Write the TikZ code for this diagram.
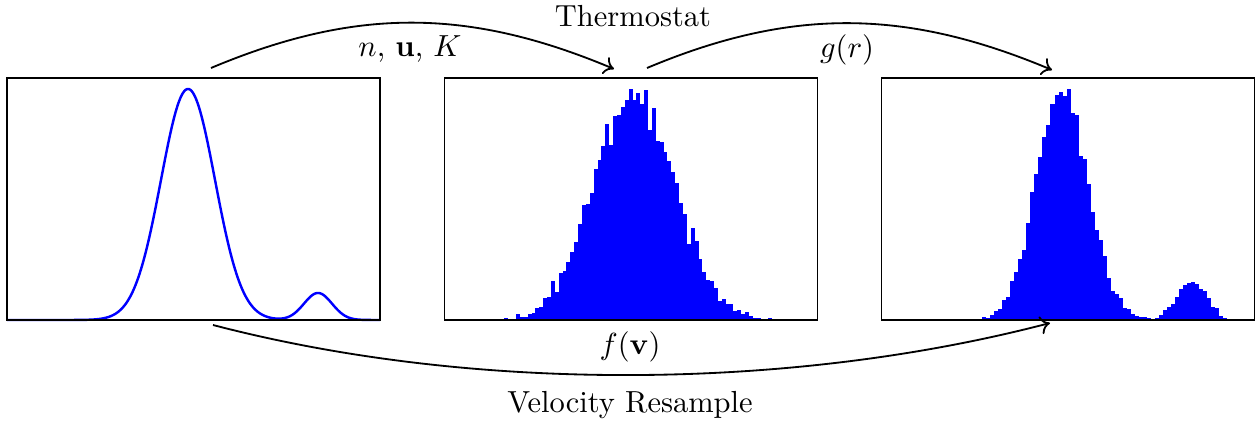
\documentclass[tikz,border=0pt]{standalone}
\usetikzlibrary{arrows.meta}
\begin{document}
\begin{tikzpicture}[x=0.328pt, y=-0.328pt,
  panel/.style={draw=black, line width=0.45pt, minimum width=122.34pt, minimum height=79.38pt, inner sep=0pt, outer sep=0pt},
  flow/.style={-{To[length=3.2pt,width=6pt]}, line width=0.6pt},
  lbl/.style={anchor=base, inner sep=0pt},
  bar/.style={fill=blue}]
\useasboundingbox (0,0) rectangle (1260,421);
% panel 1: smooth density
\draw[blue, line width=0.8pt] plot[domain=7:380, samples=300, smooth]
  (\x, {320 - 231*exp(max(-30,-0.5*((\x-188)/27)^2)) - 27*exp(max(-30,-0.5*((\x-318)/14)^2))});
% panel 2: histogram
\foreach \h [count=\i from 0] in {4,1,3,4,1,6,4,4,18,9,9,18,21,36,39,67,69,117,85,141,147,174,204,234,288,345,349,381,453,480,522,589,525,613,615,640,660,693,660,682,649,690,570,636,537,534,504,477,444,411,351,318,229,276,237,183,144,120,117,96,58,63,49,49,28,31,19,24,12,7,7,4,4,7,4}
  \fill[bar] ({485+3.88*\i},320) rectangle ({485+3.88*\i+3.98},{320-\h/3});
% panel 3: histogram
\fill[bar] (951,320) rectangle (1253,319);
\foreach \h [count=\i from 0] in {4,9,6,14,28,33,60,69,117,144,183,210,291,384,438,489,549,585,649,675,684,672,692,621,615,492,483,408,324,269,240,192,126,88,78,66,36,33,18,13,10,9,6,4,7,15,31,39,49,69,93,105,111,114,108,93,86,66,39,36,12,6,3}
  \fill[bar] ({978.3+4.01*\i},320) rectangle ({978.3+4.01*\i+4.11},{320-\h/3});
% panels
\node[panel] (p1) at (193.5,199) {};
\node[panel] (p2) at (631,199) {};
\node[panel] (p3) at (1068,199) {};
% connector ends
\coordinate (a1s) at (211,68);
\coordinate (a1e) at (614,69);
\coordinate (a2s) at (647,68);
\coordinate (a2e) at (1052,70);
\coordinate (a3s) at (213,325);
\coordinate (a3e) at (1050,323);
\draw[flow] (a1s) .. controls (356,7) and (469,8) .. (a1e);
\draw[flow] (a2s) .. controls (792,7) and (907,9) .. (a2e);
\draw[flow] (a3s) .. controls (473,393) and (790,391) .. (a3e);
% labels
\node[lbl] (thermo) at (633,27) {Thermostat};
\node[lbl] (l1) at (410,57) {$n$, $\mathbf{u}$, $K$};
\node[lbl] (l2) at (847,58) {$g(r)$};
\node[lbl] (l3) at (630,355) {$f(\mathbf{v})$};
\node[lbl] (vr) at (630,413) {Velocity Resample};
\end{tikzpicture}
\end{document}
